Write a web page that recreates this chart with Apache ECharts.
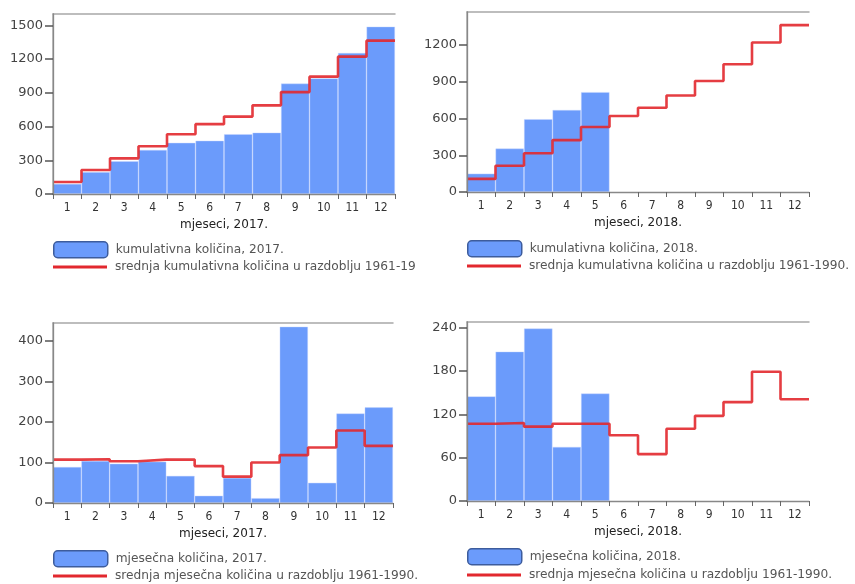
<!DOCTYPE html>
<html><head><meta charset="utf-8">
<script src="https://cdn.jsdelivr.net/npm/echarts@6/dist/echarts.min.js"></script>
<style>
html,body{margin:0;padding:0;background:#fff;width:855px;height:584px;overflow:hidden;}
.p{position:absolute;overflow:hidden;}
</style></head>
<body>
<div id="c1" class="p" style="left:0;top:0;width:415px;height:292px"></div>
<div id="c3" class="p" style="left:0;top:292px;width:432px;height:292px"></div>
<div id="c2" class="p" style="left:410px;top:0;width:445px;height:292px"></div>
<div id="c4" class="p" style="left:410px;top:292px;width:445px;height:292px"></div>
<script>
const months = ['1','2','3','4','5','6','7','8','9','10','11','12'];
const cum2017 = [90, 195, 292, 392, 455, 474, 532, 546, 982, 1028, 1254, 1488];
const cum2018 = [150, 355, 595, 670, 816];
const cumMean = [107, 214, 317, 424, 531, 621, 688, 788, 906, 1043, 1221, 1363];
const mon2017 = [89, 104, 97, 102, 67, 18, 62, 12, 435, 50, 221, 236];
const mon2018 = [145, 207, 239, 75, 149];
const monMean = [107, 108, 103, 107, 107, 91, 65, 100, 118, 137, 179, 141];
const ticksCum2017 = 300, ticksCum2018 = 300, ticksMon2017 = 100, ticksMon2018 = 60;

const BLUE = '#6b9bfb', RED = '#e2282e';
const FONT = 'DejaVu Sans';
const FRAME = '#a8a8a8';

function stepData(vals){
  const d = vals.map((v,i)=>[i,v]);
  d.push([vals.length, vals[vals.length-1]]);
  return d;
}

function build(el, cfg){
  const ch = echarts.init(document.getElementById(el), null, {renderer:'canvas'});
  const legText = {fontFamily:FONT, fontSize:12.2, color:'#555', padding:[0,0,0,3]};
  const frameAxis = {show:true, axisLine:{show:true, lineStyle:{color:FRAME, width:1.5}},
    axisTick:{show:false}, axisLabel:{show:false}, splitLine:{show:false}};
  ch.setOption({
    animation:false,
    textStyle:{fontFamily:FONT},
    grid:{left:cfg.left, top:cfg.top, width:cfg.width, height:cfg.height, show:false,
      containLabel:false, outerBoundsMode:'none'},
    legend:[{
      orient:'vertical', left:cfg.left, top:cfg.legTop, padding:0, itemWidth:54, itemHeight:16,
      textStyle:legText,
      data:[{name:cfg.barName, icon:'roundRect', itemStyle:{color:BLUE, borderColor:'#3d5c9c', borderWidth:1.5}}]
    },{
      orient:'vertical', left:cfg.left, top:cfg.lineTop, padding:0, itemWidth:54, itemHeight:3,
      textStyle:legText,
      data:[{name:cfg.lineName, icon:'rect', itemStyle:{color:RED}}]
    }],
    xAxis:[{
      type:'category', data:months, boundaryGap:true, z:6,
      name:cfg.xName, nameLocation:'middle', nameGap:25,
      nameTextStyle:{fontFamily:FONT, fontSize:12, color:'#222'},
      axisLine:{lineStyle:{color:'#888', width:1.3}},
      axisTick:{show:true, length:5, alignWithLabel:false, lineStyle:{color:'#666'}},
      axisLabel:{fontFamily:"'Liberation Sans Narrow','DejaVu Sans Condensed','Liberation Sans'", fontSize:12, color:'#333', margin:8}
    },{
      type:'value', min:0, max:12, show:false
    },Object.assign({type:'value', min:0, max:12, position:'top'}, frameAxis)],
    yAxis:[{
      type:'value', min:0, max:cfg.max, interval:cfg.interval, z:6,
      axisLine:{show:true, lineStyle:{color:'#888', width:1.3}},
      axisTick:{show:true, length:8, lineStyle:{color:'#555', width:1.5}},
      axisLabel:{fontFamily:FONT, fontSize:13, color:'#444', margin:10, showMaxLabel:false,
        formatter:function(v){return String(v);}},
      splitLine:{show:false}
    },Object.assign({type:'value', min:0, max:1, position:'right'}, frameAxis)],
    series:[{
      name:cfg.barName, type:'bar', xAxisIndex:0, yAxisIndex:0, data:cfg.bars,
      barWidth:'100%', barCategoryGap:0,
      itemStyle:{color:BLUE, borderColor:'rgba(200,215,255,0.7)', borderWidth:0.6}
    },{
      name:cfg.lineName, type:'line', xAxisIndex:1, yAxisIndex:0, data:stepData(cfg.line),
      step:'end', symbol:'none', z:5,
      lineStyle:{color:RED, width:2.6, opacity:0.9},
      itemStyle:{color:RED}
    }]
  });
}

build('c1', {left:53, top:14, width:342, height:180, legTop:241, lineTop:261, max:1600, interval:ticksCum2017,
  bars:cum2017, line:cumMean, xName:'mjeseci, 2017.',
  barName:'kumulativna količina, 2017.', lineName:'srednja kumulativna količina u razdoblju 1961-1990.'});
build('c2', {left:57, top:12, width:342, height:180, legTop:240, lineTop:260, max:1470, interval:ticksCum2018,
  bars:cum2018, line:cumMean, xName:'mjeseci, 2018.',
  barName:'kumulativna količina, 2018.', lineName:'srednja kumulativna količina u razdoblju 1961-1990.'});
build('c3', {left:53, top:31, width:340, height:180, legTop:258, lineTop:278, max:444, interval:ticksMon2017,
  bars:mon2017, line:monMean, xName:'mjeseci, 2017.',
  barName:'mjesečna količina, 2017.', lineName:'srednja mjesečna količina u razdoblju 1961-1990.'});
build('c4', {left:57, top:30, width:342, height:179, legTop:256, lineTop:277, max:248, interval:ticksMon2018,
  bars:mon2018, line:monMean, xName:'mjeseci, 2018.',
  barName:'mjesečna količina, 2018.', lineName:'srednja mjesečna količina u razdoblju 1961-1990.'});
</script>
</body></html>
